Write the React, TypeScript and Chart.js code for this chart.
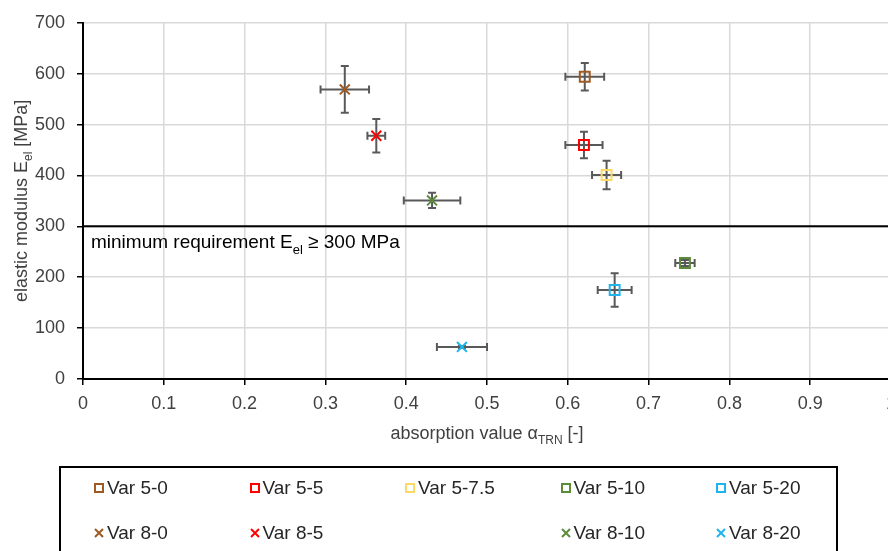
import React, { useEffect, useRef } from 'react';
import { Chart, registerables } from 'chart.js';

Chart.register(...registerables);

// ---- data ----
const seriesLabels = ['Var 5-0', 'Var 5-5', 'Var 5-7.5', 'Var 5-10', 'Var 5-20', 'Var 8-0', 'Var 8-5', 'Var 8-10', 'Var 8-20'];
const absorption = [0.621, 0.62, 0.648, 0.745, 0.658, 0.324, 0.363, 0.432, 0.469];
const absorptionErr = [0.024, 0.023, 0.018, 0.012, 0.021, 0.03, 0.011, 0.035, 0.031];
const modulus = [594, 460, 401, 228, 175, 569, 478, 351, 63];
const modulusErr = [27, 26, 28, 6, 33, 46, 33, 15, 2];
const markerStyles = ['rect', 'rect', 'rect', 'rect', 'rect', 'crossRot', 'crossRot', 'crossRot', 'crossRot'];
const markerColors = ['#9E5A22', '#FF0000', '#FFD966', '#5B8C3A', '#1FB4EE', '#9E5A22', '#FF0000', '#5B8C3A', '#1FB4EE'];
const legendSlots = [0, 1, 2, 3, 4, 5, 6, 8, 9];
const xTickValues = [0, 0.1, 0.2, 0.3, 0.4, 0.5, 0.6, 0.7, 0.8, 0.9, 1];
const xTickLabels = ['0', '0.1', '0.2', '0.3', '0.4', '0.5', '0.6', '0.7', '0.8', '0.9', '1'];
const yTickValues = [0, 100, 200, 300, 400, 500, 600, 700];
const yTickLabels = ['0', '100', '200', '300', '400', '500', '600', '700'];
const requirementValue = 300;

const FONT = '"Liberation Sans", Arial, sans-serif';
const TEXT = '#404040';

type Part = { t: string; sub?: boolean };

function drawRich(ctx: CanvasRenderingContext2D, parts: Part[], x: number, y: number, align: 'left' | 'center', size: number, color: string) {
  const subSize = Math.round(size * 0.68);
  ctx.save();
  ctx.fillStyle = color;
  ctx.textBaseline = 'alphabetic';
  ctx.textAlign = 'left';
  let total = 0;
  const widths = parts.map((p) => {
    ctx.font = `${p.sub ? subSize : size}px ${FONT}`;
    const w = ctx.measureText(p.t).width;
    total += w;
    return w;
  });
  let cx = align === 'center' ? x - total / 2 : x;
  parts.forEach((p, i) => {
    ctx.font = `${p.sub ? subSize : size}px ${FONT}`;
    ctx.fillText(p.t, cx, p.sub ? y + size * 0.28 : y);
    cx += widths[i];
  });
  ctx.restore();
}

const errorBarPlugin = {
  id: 'errorBars',
  beforeDatasetsDraw(chart: any) {
    const { ctx } = chart;
    const xs = chart.scales.x;
    const ys = chart.scales.y;
    const cap = 4;
    ctx.save();
    ctx.strokeStyle = '#595959';
    ctx.lineWidth = 2;
    absorption.forEach((ax, i) => {
      const px = xs.getPixelForValue(ax);
      const py = ys.getPixelForValue(modulus[i]);
      const x0 = xs.getPixelForValue(ax - absorptionErr[i]);
      const x1 = xs.getPixelForValue(ax + absorptionErr[i]);
      const y0 = ys.getPixelForValue(modulus[i] - modulusErr[i]);
      const y1 = ys.getPixelForValue(modulus[i] + modulusErr[i]);
      ctx.beginPath();
      ctx.moveTo(x0, py); ctx.lineTo(x1, py);
      ctx.moveTo(x0, py - cap); ctx.lineTo(x0, py + cap);
      ctx.moveTo(x1, py - cap); ctx.lineTo(x1, py + cap);
      ctx.moveTo(px, y0); ctx.lineTo(px, y1);
      ctx.moveTo(px - cap, y0); ctx.lineTo(px + cap, y0);
      ctx.moveTo(px - cap, y1); ctx.lineTo(px + cap, y1);
      ctx.stroke();
    });
    ctx.restore();
  },
};

const annotationPlugin = {
  id: 'annotations',
  afterDraw(chart: any) {
    const { ctx, chartArea } = chart;
    const ys = chart.scales.y;
    const py = ys.getPixelForValue(requirementValue);
    ctx.save();
    ctx.strokeStyle = '#000';
    ctx.lineWidth = 2;
    ctx.beginPath();
    ctx.moveTo(chartArea.left, py);
    ctx.lineTo(chartArea.right, py);
    ctx.stroke();
    ctx.restore();
    drawRich(ctx, [{ t: 'minimum requirement E' }, { t: 'el', sub: true }, { t: ' \u2265 300 MPa' }], chartArea.left + 8, py + 22, 'left', 19, '#000');
    // x title
    drawRich(ctx, [{ t: 'absorption value \u03b1' }, { t: 'TRN', sub: true }, { t: ' [-]' }], (chartArea.left + chartArea.right) / 2, 439, 'center', 18, TEXT);
    // y title
    ctx.save();
    ctx.translate(27, (chartArea.top + chartArea.bottom) / 2);
    ctx.rotate(-Math.PI / 2);
    drawRich(ctx, [{ t: 'elastic modulus E' }, { t: 'el', sub: true }, { t: ' [MPa]' }], 0, 0, 'center', 18, TEXT);
    ctx.restore();
  },
};

function LegendMarker({ style, color }: { style: string; color: string }) {
  return (
    <svg width={10} height={10} style={{ display: 'block' }}>
      {style === 'rect' ? (
        <rect x={1} y={1} width={8} height={8} fill="none" stroke={color} strokeWidth={2} />
      ) : (
        <path d="M1 1 L9 9 M9 1 L1 9" stroke={color} strokeWidth={2} />
      )}
    </svg>
  );
}

export default function App() {
  const canvasRef = useRef<HTMLCanvasElement | null>(null);

  useEffect(() => {
    if (!canvasRef.current) return;
    const datasets = seriesLabels.map((label, i) => ({
      label,
      data: [{ x: absorption[i], y: modulus[i] }],
      pointStyle: markerStyles[i],
      pointRadius: 7,
      pointHoverRadius: 7,
      pointBorderWidth: 2,
      borderColor: markerColors[i],
      backgroundColor: 'rgba(0,0,0,0)',
      showLine: false,
    }));
    const tickFont = { family: FONT, size: 18 };
    const chart = new Chart(canvasRef.current, {
      type: 'scatter',
      data: { datasets },
      plugins: [errorBarPlugin, annotationPlugin],
      options: {
        animation: false,
        responsive: false,
        devicePixelRatio: 1,
        layout: { padding: { top: 20, right: 19, left: 0, bottom: 0 } },
        plugins: { legend: { display: false }, tooltip: { enabled: false } },
        scales: {
          x: {
            type: 'linear',
            min: 0,
            max: 1,
            afterBuildTicks: (s: any) => { s.ticks = xTickValues.map((v) => ({ value: v })); },
            afterFit: (s: any) => { s.height = 551 - 379; },
            ticks: {
              font: tickFont,
              color: TEXT,
              padding: 8,
              maxRotation: 0,
              autoSkip: false,
              callback: (_v: any, i: number) => xTickLabels[i],
            },
            grid: { color: '#d9d9d9', lineWidth: 1.5, tickColor: '#000', tickLength: 6, tickWidth: 1.5 },
            border: { color: '#000', width: 2 },
          },
          y: {
            type: 'linear',
            min: 0,
            max: 700,
            afterBuildTicks: (s: any) => { s.ticks = yTickValues.map((v) => ({ value: v })); },
            afterFit: (s: any) => { s.width = 83; },
            ticks: {
              font: tickFont,
              color: TEXT,
              padding: 12,
              autoSkip: false,
              callback: (_v: any, i: number) => yTickLabels[i],
            },
            grid: { color: '#d9d9d9', lineWidth: 1.5, tickColor: '#000', tickLength: 6, tickWidth: 1.5 },
            border: { color: '#000', width: 2 },
          },
        },
      } as any,
    });
    return () => chart.destroy();
  }, []);

  const colW = 155.5;
  return (
    <div style={{ position: 'fixed', left: 0, top: 0, width: 910, height: 551, background: '#fff', overflow: 'hidden' }}>
      <canvas ref={canvasRef} width={910} height={551} style={{ position: 'absolute', left: 0, top: 0, width: 910, height: 551 }} />
      <div style={{ position: 'absolute', left: 59, top: 466, width: 779, height: 120, border: '2px solid #000', boxSizing: 'border-box' }} />
      {seriesLabels.map((label, i) => {
        const slot = legendSlots[i];
        const row = Math.floor(slot / 5);
        const col = slot % 5;
        const cx = 99 + col * colW;
        const cy = 488 + row * 45;
        return (
          <div
            key={label}
            style={{
              position: 'absolute',
              left: cx - 5,
              top: cy - 12,
              height: 24,
              display: 'flex',
              alignItems: 'center',
              whiteSpace: 'nowrap',
              fontFamily: FONT,
              fontSize: 19,
              color: '#262626',
            }}
          >
            <LegendMarker style={markerStyles[i]} color={markerColors[i]} />
            <span style={{ marginLeft: 3 }}>{label}</span>
          </div>
        );
      })}
    </div>
  );
}
